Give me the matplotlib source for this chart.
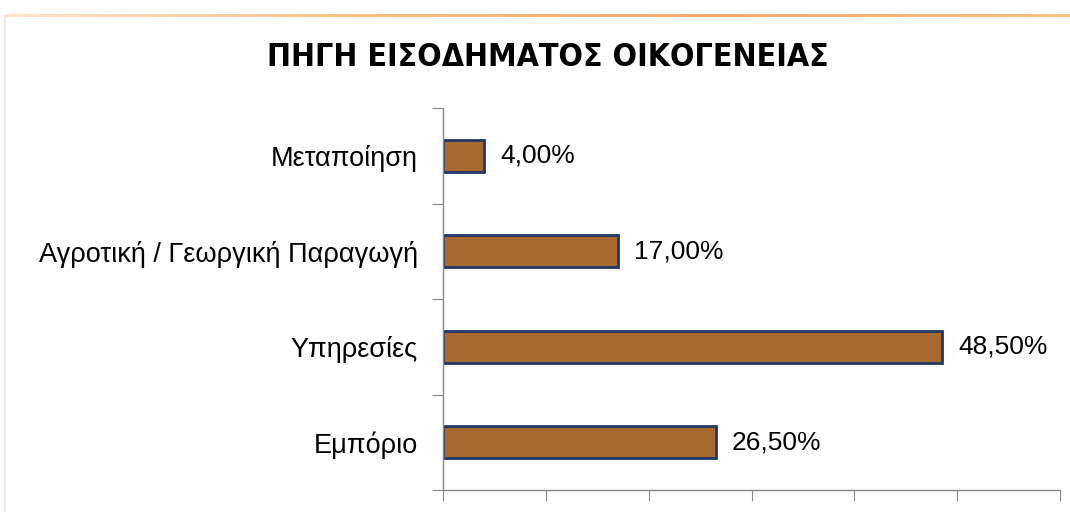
import matplotlib
matplotlib.use("Agg")
import matplotlib.pyplot as plt
import numpy as np
from matplotlib.lines import Line2D

categories = ["Εμπόριο", "Υπηρεσίες", "Αγροτική / Γεωργική Παραγωγή", "Μεταποίηση"]
values = [26.5, 48.5, 17.0, 4.0]
labels = ["26,50%", "48,50%", "17,00%", "4,00%"]
title = "ΠΗΓΗ ΕΙΣΟΔΗΜΑΤΟΣ ΟΙΚΟΓΕΝΕΙΑΣ"

W, H = 1070, 512
fig = plt.figure(figsize=(W/100, H/100), dpi=100)
fig.patch.set_facecolor("white")

# decorative top gradient line and faint left border
grad = np.linspace(0, 1, 256)
cmap = matplotlib.colors.LinearSegmentedColormap.from_list("g", ["#FFE4D0", "#FDBE80", "#FBA86A", "#FCC080"])
axg = fig.add_axes([5/W, 1-17/H, 1-5/W, 3/H])
axg.imshow(grad[None, :], aspect="auto", cmap=cmap)
axg.axis("off")
fig.add_artist(Line2D([5/W, 5/W], [0, 1-15/H], color="#FCE4E8", lw=1.5))

ax = fig.add_axes([443/W, 1-490/H, (1060-443)/W, (490-108)/H])
y = np.arange(len(categories))
bars = ax.barh(y, values, height=0.33, color="#A8692F", edgecolor="#1F3864", linewidth=2)
ax.set_ylim(-0.5, len(categories)-0.5)
ax.set_xlim(0, 60)
ax.set_xticks(np.arange(0, 61, 10))
ax.set_xticklabels([])
ax.set_yticks(np.arange(-0.5, len(categories), 1.0))
ax.set_yticklabels([])
ax.set_yticks(y, minor=True)
ax.set_yticklabels(categories, minor=True, fontsize=19.5, family="Liberation Sans")
ax.tick_params(axis="y", which="minor", length=0, pad=18)
ax.tick_params(axis="y", which="major", length=8, color="#888888", direction="out")
ax.tick_params(axis="x", length=8, color="#888888", direction="out")
for s in ["top", "right"]:
    ax.spines[s].set_visible(False)
for s in ["left", "bottom"]:
    ax.spines[s].set_color("#888888")
    ax.spines[s].set_linewidth(1)

for yi, v, lab in zip(y, values, labels):
    ax.text(v + 1.6, yi, lab, va="center", ha="left", fontsize=19, family="Liberation Sans")

fig.text(548/W, 1-57/H, title, ha="center", va="center", fontsize=23, fontweight="heavy",
         family="DejaVu Sans", fontstretch="condensed")

fig.savefig("out.png", dpi=100, facecolor="white")
